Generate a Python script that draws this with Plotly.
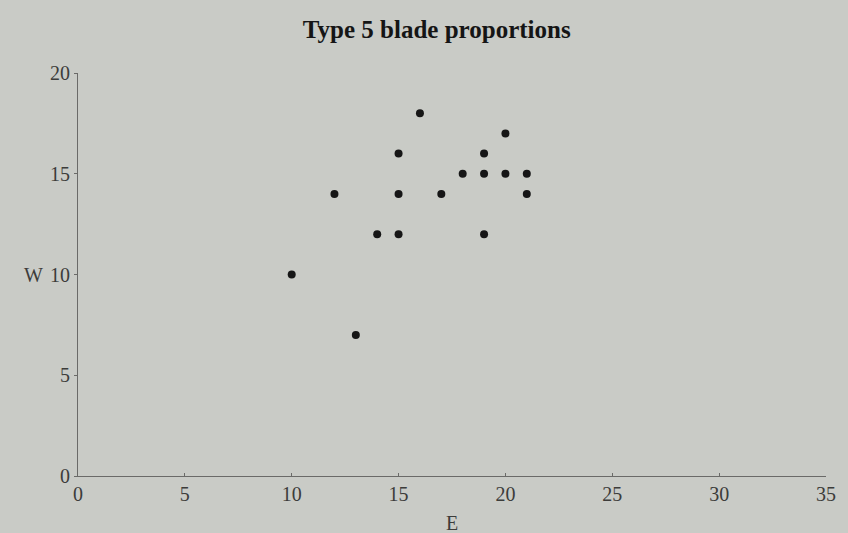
import plotly.graph_objects as go

# Type 5 blade proportions: E (x) against W (y)
e_values = [10, 12, 13, 14, 15, 15, 15, 16, 17, 18, 19, 19, 19, 20, 20, 21, 21]
w_values = [10, 14, 7, 12, 16, 14, 12, 18, 14, 15, 16, 15, 12, 17, 15, 15, 14]

x_ticks = [0, 5, 10, 15, 20, 25, 30, 35]
y_ticks = [0, 5, 10, 15, 20]

paper = "#c9cbc6"
ink = "#3c3c3a"
serif = "Liberation Serif, Times New Roman, serif"

fig = go.Figure()
fig.add_trace(go.Scatter(
    x=e_values, y=w_values,
    mode="markers",
    marker={"color": "#161616", "size": 8},
    showlegend=False,
))

fig.update_xaxes(
    range=[0, 35], tickvals=x_ticks, showgrid=False, zeroline=False,
    showline=True, linecolor="#6a6a68", linewidth=1,
    ticks="inside", ticklen=3, tickcolor="#6a6a68",
    tickfont={"family": serif, "size": 20, "color": ink},
)
fig.update_yaxes(
    range=[0, 20], tickvals=y_ticks, showgrid=False, zeroline=False,
    showline=True, linecolor="#6a6a68", linewidth=1,
    ticks="outside", ticklen=3, tickcolor="#6a6a68",
    tickfont={"family": serif, "size": 20, "color": ink},
)

fig.update_layout(
    width=848, height=533,
    margin={"l": 78, "r": 16, "t": 73, "b": 57},
    paper_bgcolor=paper, plot_bgcolor=paper,
    title={"text": "<b>Type 5 blade proportions</b>", "x": 0.515, "xanchor": "center",
           "y": 0.945, "yanchor": "middle",
           "font": {"family": serif, "size": 25, "color": "#151515"}},
    annotations=[
        {"text": "W", "xref": "paper", "yref": "y", "x": -0.06, "y": 10,
         "showarrow": False, "xanchor": "center",
         "font": {"family": serif, "size": 20, "color": ink}},
        {"text": "E", "xref": "x", "yref": "paper", "x": 17.5, "y": -0.085,
         "showarrow": False, "yanchor": "top",
         "font": {"family": serif, "size": 20, "color": ink}},
    ],
)

fig.write_html("out.html", config={"displayModeBar": False},
               post_script="document.body.style.margin='0';")
